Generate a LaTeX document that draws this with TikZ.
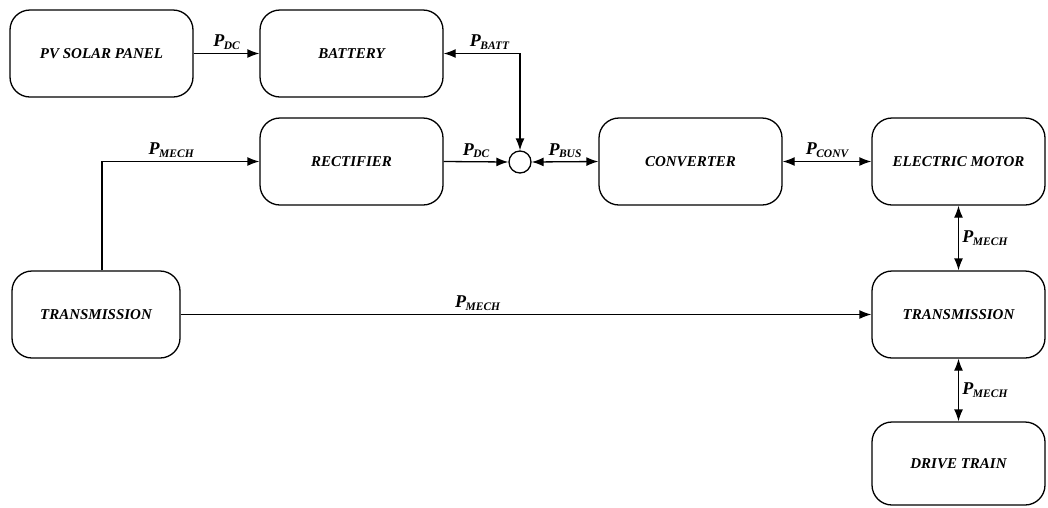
\documentclass[tikz,border=0pt]{standalone}
\usepackage{fontspec}
\setmainfont{Liberation Serif}
\usetikzlibrary{arrows.meta}
\newcommand{\pw}[1]{{\fontsize{18}{20}\selectfont\bfseries\itshape P\kern-0.5pt\raisebox{-2.5pt}{\fontsize{11.5}{12}\selectfont #1}}}
\tikzset{
  blk/.style={draw, line width=1.3pt, rounded corners=20pt, minimum width=183pt,
    minimum height=87pt, inner sep=0pt,
    font=\fontsize{15}{18}\selectfont\bfseries\itshape},
  wire/.style={line width=1.3pt}
}
\begin{document}
\begin{tikzpicture}[>={Latex[length=12pt,width=9pt]}, x=1pt, y=-1pt]
    \useasboundingbox (0,0) rectangle (1048,507);

    % 1. Các khối
    \node[blk] (pv) at (101.5,53.5) {PV SOLAR PANEL};
    \node[blk] (bat) at (351.5,53.5) {BATTERY};
    \node[blk] (rect) at (351.5,161.5) {RECTIFIER};
    \node[blk] (conv) at (690.5,161.5) {CONVERTER};
    \node[blk, minimum width=173pt] (motor) at (958.5,161.5) {ELECTRIC MOTOR};
    \node[blk, minimum width=168pt] (trl) at (96,314.5) {TRANSMISSION};
    \node[blk, minimum width=173pt] (trr) at (958.5,314.5) {TRANSMISSION};
    \node[blk, minimum width=173pt, minimum height=83pt] (drive) at (958.5,463.5) {DRIVE TRAIN};

    % Nút cộng
    \node[draw, circle, line width=1.3pt, minimum size=22pt, inner sep=0pt] (sum) at (520,162) {};

    % 2. Các mũi tên công suất
    \draw[wire, ->] (pv.east) -- node[above] {\pw{DC}} (bat.west);
    \draw[wire, <->] (bat.east) -| node[pos=0.3, above] {\pw{BATT}} (sum.north);
    \draw[wire, ->] (rect.east) -- node[above] {\pw{DC}} (sum.west);
    \draw[wire, <->] (sum.east) -- node[above] {\pw{BUS}} (conv.west);
    \draw[wire, <->] (conv.east) -- node[above] {\pw{CONV}} (motor.west);
    \draw[wire, <->] (motor.south) -- node[right] {\pw{MECH}} (trr.north);
    \draw[wire, <->] (trr.south) -- node[right] {\pw{MECH}} (drive.north);

    % Nhánh cơ khí
    \draw[wire, ->] ([xshift=6pt]trl.north) |- node[pos=0.72, above] {\pw{MECH}} (rect.west);
    \draw[wire, ->] (trl.east) -- node[pos=0.43, above] {\pw{MECH}} (trr.west);
\end{tikzpicture}
\end{document}
